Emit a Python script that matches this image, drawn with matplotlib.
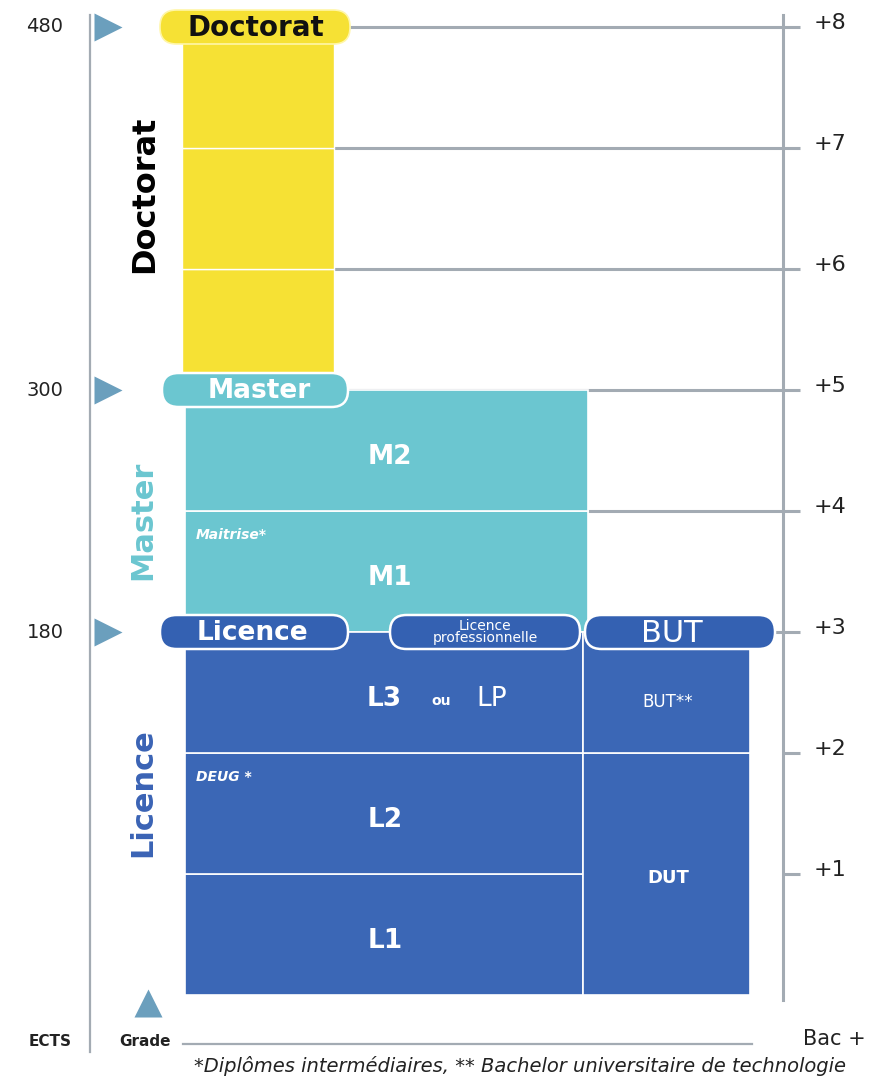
import matplotlib.pyplot as plt
from matplotlib.patches import FancyBboxPatch

plt.rcParams['font.family'] = ['DejaVu Sans']

# ---- data -------------------------------------------------------------
cycles = ['Doctorat', 'Master', 'Licence']
cycle_ects = [480, 300, 180]
cycle_end = [8, 5, 3]

licence_levels = ['L1', 'L2', 'L3']
licence_bottom = [0, 1, 2]
master_levels = ['M1', 'M2']
master_bottom = [3, 4]
doctorat_bottom = [5, 6, 7]

but_levels = ['DUT', 'BUT**']
but_bottom = [0, 2]
but_height = [2, 1]

intermediate = ['DEUG *', 'Maitrise*']
intermediate_year = [2, 4]

bac_plus = [1, 2, 3, 4, 5, 6, 7, 8]
footnote = '*Diplômes intermédiaires, ** Bachelor universitaire de technologie'

# ---- colours ----------------------------------------------------------
yellow = '#f6e134'
teal = '#6bc6d0'
blue = '#3b67b6'
pill_blue = '#3461b2'
tri = '#6b9fbd'
grey = '#a3abb3'

# pixel-like x, years on y  (1 year ~ 121 px, year 0 at y=995 px)
fig = plt.figure(figsize=(8.72, 10.79), dpi=100)
ax = fig.add_axes([0, 0, 1, 1])
ax.set_xlim(0, 872)
ax.set_ylim((995 - 1079) / 121, 995 / 121)
ax.axis('off')
PX = 1 / 121  # one pixel in years

# blocks
ax.bar(258, 1, bottom=doctorat_bottom, width=152, color=yellow,
       edgecolor='white', linewidth=1, zorder=2)
ax.bar(386.5, 1, bottom=master_bottom, width=403, color=teal,
       edgecolor='white', linewidth=1.2, zorder=2)
ax.bar(384, 1, bottom=licence_bottom, width=398, color=blue,
       edgecolor='white', linewidth=1.2, zorder=2)
ax.bar(666.5, but_height, bottom=but_bottom, width=167, color=blue,
       edgecolor='white', linewidth=1.2, zorder=2)

# level labels
for lab, b in zip(licence_levels, licence_bottom):
    if lab == 'L3':
        ax.text(384, b + 0.45, 'L3', color='white', fontsize=19,
                fontweight='bold', ha='center', va='center', zorder=5)
        ax.text(441, b + 0.43, 'ou', color='white', fontsize=10,
                fontweight='bold', ha='center', va='center', zorder=5)
        ax.text(492, b + 0.45, 'LP', color='white', fontsize=19,
                ha='center', va='center', zorder=5)
    else:
        ax.text(385, b + 0.45, lab, color='white', fontsize=19,
                fontweight='bold', ha='center', va='center', zorder=5)
for lab, b in zip(master_levels, master_bottom):
    ax.text(390, b + 0.45, lab, color='white', fontsize=19,
            fontweight='bold', ha='center', va='center', zorder=5)
for lab, b, h in zip(but_levels, but_bottom, but_height):
    if lab == 'DUT':
        ax.text(668, b + h / 2 - 0.03, lab, color='white', fontsize=13,
                fontweight='bold', ha='center', va='center', zorder=5)
    else:
        ax.text(668, b + 0.42, lab, color='white', fontsize=12,
                ha='center', va='center', zorder=5)
for lab, y in zip(intermediate, intermediate_year):
    ax.text(196, y - 0.2, lab, color='white', fontsize=10, style='italic',
            fontweight='bold', ha='left', va='center', zorder=5)

# grey grid lines to the right axis
line_start = {8: 350, 7: 334, 6: 334, 5: 348, 4: 588, 3: 775, 2: 783, 1: 783}
for y in bac_plus:
    ax.plot([line_start[y], 800], [y, y], color=grey, lw=2.2, zorder=1,
            solid_capstyle='butt')
    ax.text(830, y + 0.03, f'+{y}', fontsize=16, ha='center', va='center',
            color='#222222')
ax.plot([783, 783], [(995 - 15) * PX, (995 - 1000) * PX], color=grey, lw=2.2,
        zorder=1)

# left ECTS axis
ax.plot([90, 90], [(995 - 15) * PX, (995 - 1052) * PX], color=grey, lw=1.6)
for e, y in zip(cycle_ects, cycle_end):
    ax.text(45, y, str(e), fontsize=14, ha='center', va='center',
            color='#222222')
    ax.plot(108, y, marker='>', ms=20, color=tri, mec='none')
ax.plot(148, (995 - 1003) * PX, marker='^', ms=20, color=tri, mec='none')

# rotated cycle names
ax.text(145, 6.62, 'Doctorat', rotation=90, fontsize=23, fontweight='bold',
        color='black', ha='center', va='center')
ax.text(143, 3.92, 'Master', rotation=90, fontsize=22, fontweight='bold',
        color=teal, ha='center', va='center')
ax.text(143, 1.67, 'Licence', rotation=90, fontsize=22, fontweight='bold',
        color='#3a63b5', ha='center', va='center')


def pill(x0, x1, y, fc, ec, lw=1.8):
    h = 34 * PX
    p = FancyBboxPatch((x0, y - h / 2), x1 - x0, h,
                       boxstyle='round,pad=0,rounding_size=16.5',
                       mutation_aspect=PX, fc=fc, ec=ec, lw=lw, zorder=4)
    ax.add_patch(p)


# pills
pill(160, 350, 8, yellow, '#fff6a8', 1.2)
ax.text(256, 8 - 0.01, cycles[0], fontsize=20, fontweight='bold',
        color='#111111', ha='center', va='center', zorder=5)
pill(162, 348, 5, teal, 'white')
ax.text(259, 5 - 0.01, cycles[1], fontsize=19, fontweight='bold',
        color='white', ha='center', va='center', zorder=5)
pill(160, 348, 3, pill_blue, 'white')
ax.text(252, 3 - 0.01, cycles[2], fontsize=19, fontweight='bold',
        color='white', ha='center', va='center', zorder=5)
pill(390, 580, 3, pill_blue, 'white')
ax.text(485, 3.0, 'Licence\nprofessionnelle', fontsize=10, color='white',
        ha='center', va='center', linespacing=0.8, zorder=5)
pill(585, 775, 3, pill_blue, 'white')
ax.text(672, 3 - 0.01, 'BUT', fontsize=22, color='white',
        ha='center', va='center', zorder=5)

# bottom
yb = (995 - 1042) * PX
ax.text(50, yb, 'ECTS', fontsize=11, fontweight='bold', ha='center',
        va='center', color='#222222')
ax.text(145, yb, 'Grade', fontsize=11, fontweight='bold', ha='center',
        va='center', color='#222222')
ax.plot([183, 752], [yb - 2 * PX, yb - 2 * PX], color=grey, lw=1.6)
ax.text(866, yb + 3 * PX, 'Bac +', fontsize=15, ha='right', va='center',
        color='#222222')
ax.text(520, (995 - 1066) * PX, footnote, fontsize=14, style='italic',
        ha='center', va='center', color='#222222')

fig.savefig('out.png', dpi=100)
